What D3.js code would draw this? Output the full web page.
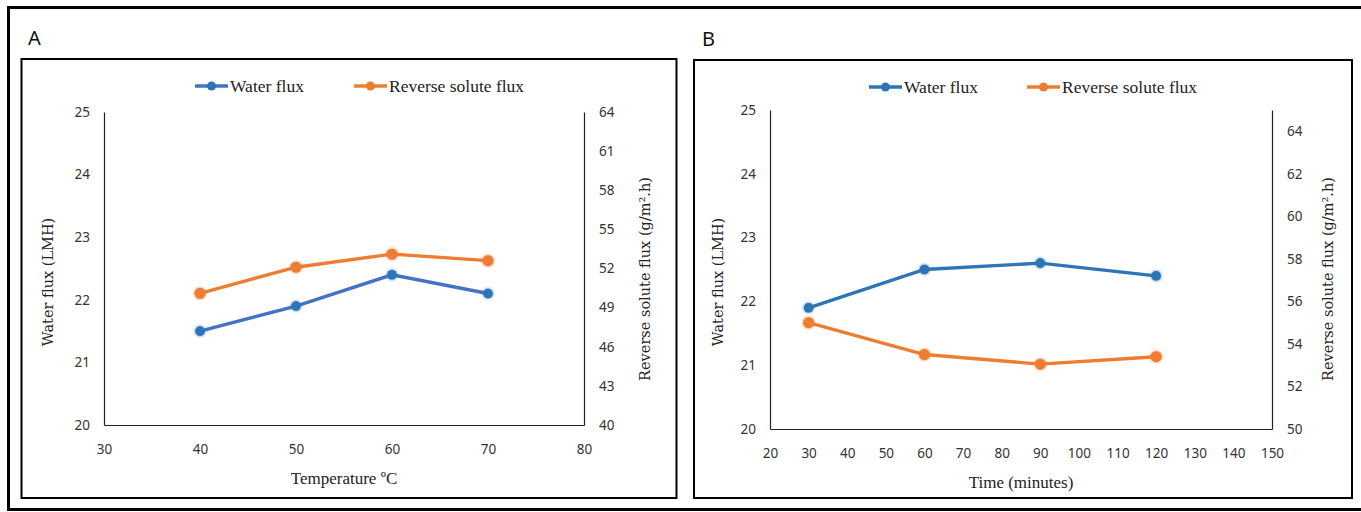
<!DOCTYPE html>
<html>
<head>
<meta charset="utf-8">
<script src="https://cdn.jsdelivr.net/npm/d3@7"></script>
<style>
  body { margin: 0; background: #fff; }
  svg { display: block; }
</style>
</head>
<body>
<svg id="chart" width="1361" height="512"></svg>
<script>
// data
var tempCats = [40, 50, 60, 70]
var tempWater = [21.5, 21.9, 22.4, 22.1]
var tempRsf = [50.1, 52.1, 53.1, 52.6]

var timeCats = [30, 60, 90, 120]
var timeWater = [21.9, 22.5, 22.6, 22.4]
var timeRsf = [55.0, 53.5, 53.05, 53.4]

var waterTicks = [20, 21, 22, 23, 24, 25]
var tempXTicks = [30, 40, 50, 60, 70, 80]
var tempRsfTicks = [40, 43, 46, 49, 52, 55, 58, 61, 64]
var timeXTicks = [20, 30, 40, 50, 60, 70, 80, 90, 100, 110, 120, 130, 140, 150]
var timeRsfTicks = [50, 52, 54, 56, 58, 60, 62, 64]

var blue = "#2E75B6"
var orange = "#ED7D31"
var tickFont = "'Noto Sans', 'Open Sans', sans-serif"
var serif = "'Liberation Serif', 'DejaVu Serif', serif"
var wideSerif = "'DejaVu Serif', serif"

var svg = d3.select("#chart")

// glow under the markers
var defs = svg.append("defs")
var f = defs.append("filter").attr("id", "glow").attr("x", "-50%").attr("y", "-50%").attr("width", "200%").attr("height", "200%")
f.append("feGaussianBlur").attr("in", "SourceGraphic").attr("stdDeviation", 1.6).attr("result", "b")
var fm = f.append("feMerge")
fm.append("feMergeNode").attr("in", "b")
fm.append("feMergeNode").attr("in", "SourceGraphic")

// outer frame
svg.append("rect")
    .attr("x", 8.5).attr("y", 7.5)
    .attr("width", 1400).attr("height", 502)
    .attr("fill", "none").attr("stroke", "#000").attr("stroke-width", 3)

var panels = [
  {
    letter: "A", lx: 28, ly: 45,
    box: [21.5, 59, 655, 439],
    left: 104, right: 584, top: 112, bottom: 425,
    xDomain: [30, 80], xTicks: tempXTicks,
    rDomain: [40, 64], rTicks: tempRsfTicks,
    cats: tempCats, water: tempWater, rsf: tempRsf,
    waterLine: "#4472C4",
    xTitle: "Temperature ºC", xTitleY: 484,
    lTitleX: 48, rTitleX: 645,
    legendX: [195, 354], legendY: 86
  },
  {
    letter: "B", lx: 702, ly: 46,
    box: [694, 60, 658, 438],
    left: 770, right: 1272, top: 110, bottom: 429,
    xDomain: [20, 150], xTicks: timeXTicks,
    rDomain: [50, 65], rTicks: timeRsfTicks,
    cats: timeCats, water: timeWater, rsf: timeRsf,
    waterLine: blue,
    xTitle: "Time (minutes)", xTitleY: 488,
    lTitleX: 718, rTitleX: 1328,
    legendX: [869, 1027], legendY: 87
  }
]

panels.forEach(function(p) {
    var g = svg.append("g")

    g.append("rect")
        .attr("x", p.box[0]).attr("y", p.box[1])
        .attr("width", p.box[2]).attr("height", p.box[3])
        .attr("fill", "#fff").attr("stroke", "#000").attr("stroke-width", 2)

    g.append("text")
        .attr("x", p.lx).attr("y", p.ly)
        .attr("font-family", tickFont).attr("font-size", 20)
        .attr("fill", "#111")
        .text(p.letter)

    var x = d3.scaleLinear().domain(p.xDomain).range([p.left, p.right])
    var y = d3.scaleLinear().domain([20, 25]).range([p.bottom, p.top])
    var y2 = d3.scaleLinear().domain(p.rDomain).range([p.bottom, p.top])

    var ax = g.append("g")
        .attr("transform", "translate(0," + p.bottom + ")")
        .call(d3.axisBottom(x).tickValues(p.xTicks).tickSize(0).tickPadding(19).tickFormat(d3.format("d")))
    var ayl = g.append("g")
        .attr("transform", "translate(" + p.left + ",0)")
        .call(d3.axisLeft(y).tickValues(waterTicks).tickSize(0).tickPadding(14).tickFormat(d3.format("d")))
    var ayr = g.append("g")
        .attr("transform", "translate(" + p.right + ",0)")
        .call(d3.axisRight(y2).tickValues(p.rTicks).tickSize(0).tickPadding(15).tickFormat(d3.format("d")))

    ;[ax, ayl, ayr].forEach(function(a) {
        a.attr("font-family", tickFont).attr("font-size", 13.5)
        a.selectAll("text").attr("fill", "#333")
        a.select(".domain").attr("stroke", "#222").attr("stroke-width", 1.2)
    })

    // titles
    g.append("text")
        .attr("x", (p.left + p.right) / 2).attr("y", p.xTitleY)
        .attr("text-anchor", "middle")
        .attr("font-family", serif).attr("font-size", 17)
        .attr("fill", "#222")
        .text(p.xTitle)

    g.append("text")
        .attr("transform", "translate(" + p.lTitleX + "," + 282 + ") rotate(-90)")
        .attr("text-anchor", "middle").attr("dy", "0.35em")
        .attr("font-family", wideSerif).attr("font-size", 14.5)
        .attr("fill", "#222")
        .text("Water flux (LMH)")

    g.append("text")
        .attr("transform", "translate(" + p.rTitleX + "," + 279 + ") rotate(-90)")
        .attr("text-anchor", "middle").attr("dy", "0.35em")
        .attr("font-family", wideSerif).attr("font-size", 14.5)
        .attr("fill", "#222")
        .text("Reverse solute flux (g/m².h)")

    // series
    var waterPts = p.cats.map(function(c, i) { return [c, p.water[i]] })
    var rsfPts = p.cats.map(function(c, i) { return [c, p.rsf[i]] })

    var lineW = d3.line().x(function(d) { return x(d[0]) }).y(function(d) { return y(d[1]) })
    var lineR = d3.line().x(function(d) { return x(d[0]) }).y(function(d) { return y2(d[1]) })

    g.append("path").datum(rsfPts)
        .attr("d", lineR).attr("fill", "none")
        .attr("stroke", orange).attr("stroke-width", 3.4)
    g.selectAll(".rdot").data(rsfPts).enter().append("circle")
        .attr("class", "rdot")
        .attr("cx", function(d) { return x(d[0]) })
        .attr("cy", function(d) { return y2(d[1]) })
        .attr("r", 5.5).attr("fill", orange)
        .attr("filter", "url(#glow)")

    g.append("path").datum(waterPts)
        .attr("d", lineW).attr("fill", "none")
        .attr("stroke", p.waterLine).attr("stroke-width", 3.4)
    g.selectAll(".wdot").data(waterPts).enter().append("circle")
        .attr("class", "wdot")
        .attr("cx", function(d) { return x(d[0]) })
        .attr("cy", function(d) { return y(d[1]) })
        .attr("r", 4.8).attr("fill", blue)
        .attr("filter", "url(#glow)")

    // legend
    var items = [
        { name: "Water flux", line: p.waterLine, dot: blue },
        { name: "Reverse solute flux", line: orange, dot: orange }
    ]
    items.forEach(function(it, i) {
        var lx = p.legendX[i]
        var lg = g.append("g").attr("transform", "translate(" + lx + "," + p.legendY + ")")
        lg.append("line").attr("x1", 0).attr("x2", 33).attr("y1", 0).attr("y2", 0)
            .attr("stroke", it.line).attr("stroke-width", 3.4)
        lg.append("circle").attr("cx", 16.5).attr("cy", 0).attr("r", 4.5).attr("fill", it.dot)
        lg.append("text").attr("x", 35).attr("y", 0).attr("dy", "0.35em")
            .attr("font-family", serif).attr("font-size", 17.5)
            .attr("fill", "#222")
            .text(it.name)
    })
})
</script>
</body>
</html>
